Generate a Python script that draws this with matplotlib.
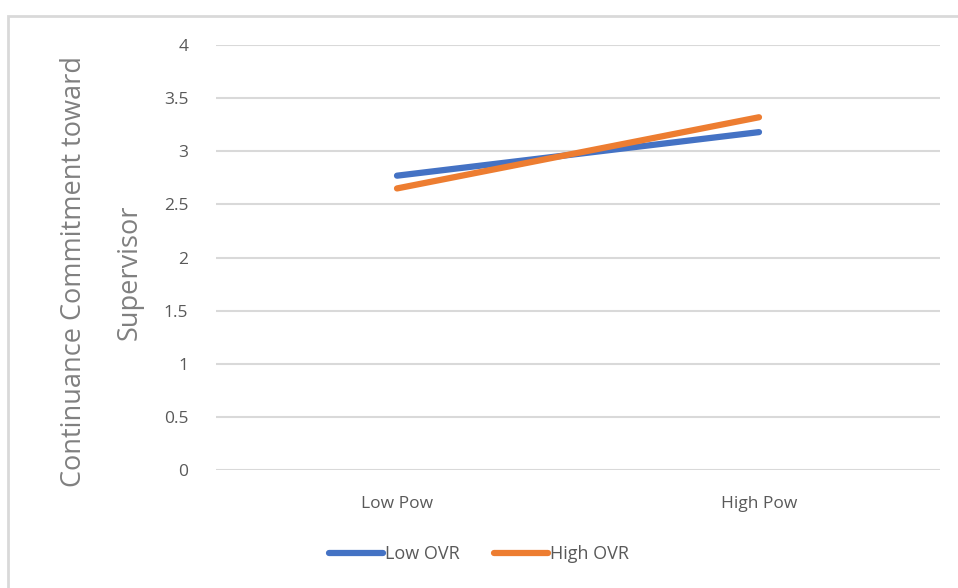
import matplotlib.pyplot as plt
from matplotlib.patches import Rectangle

categories = ['Low Pow', 'High Pow']
low_ovr = [2.77, 3.18]
high_ovr = [2.65, 3.32]
yticks = [0, 0.5, 1, 1.5, 2, 2.5, 3, 3.5, 4]
ytick_labels = ['0', '0.5', '1', '1.5', '2', '2.5', '3', '3.5', '4']

plt.rcParams['font.family'] = ['Open Sans', 'DejaVu Sans']

W, H = 958, 588
fig = plt.figure(figsize=(W / 100, H / 100), dpi=100)
fig.patches.append(Rectangle((8 / W, -0.1), 1.2, 1 - 16 / H + 0.1, transform=fig.transFigure,
                             fill=False, edgecolor='#d9d9d9', linewidth=2))

ax = fig.add_axes([216 / W, 1 - 470 / H, (940 - 216) / W, (470 - 45) / H])
x = [0, 1]
ax.plot(x, low_ovr, color='#4472c4', linewidth=4.5, solid_capstyle='round', label='Low OVR', zorder=3)
ax.plot(x, high_ovr, color='#ed7d31', linewidth=4.5, solid_capstyle='round', label='High OVR', zorder=3)

ax.set_xlim(-0.5, 1.5)
ax.set_ylim(0, 4)
ax.set_yticks(yticks)
ax.set_yticklabels(ytick_labels)
ax.set_xticks(x)
ax.set_xticklabels(categories)
ax.grid(axis='y', color='#d9d9d9', linewidth=1.5)
ax.set_axisbelow(True)
for s in ax.spines.values():
    s.set_visible(False)
ax.tick_params(length=0, colors='#595959', labelsize=12.5)
ax.tick_params(axis='y', pad=20)
ax.tick_params(axis='x', pad=19)

ax.set_ylabel('Continuance Commitment toward\nSupervisor', fontsize=19.5, color='#808080',
              linespacing=2.3)
ax.yaxis.set_label_coords(-0.158, 0.466)
ax.yaxis.label.set_va('center')

fig.legend(loc='center', bbox_to_anchor=(0.5, 1 - 554 / H), ncol=2, frameon=False,
           fontsize=13, labelcolor='#595959', handlelength=3.0, handletextpad=0.1,
           columnspacing=1.9)

fig.savefig('out.png', dpi=100)
